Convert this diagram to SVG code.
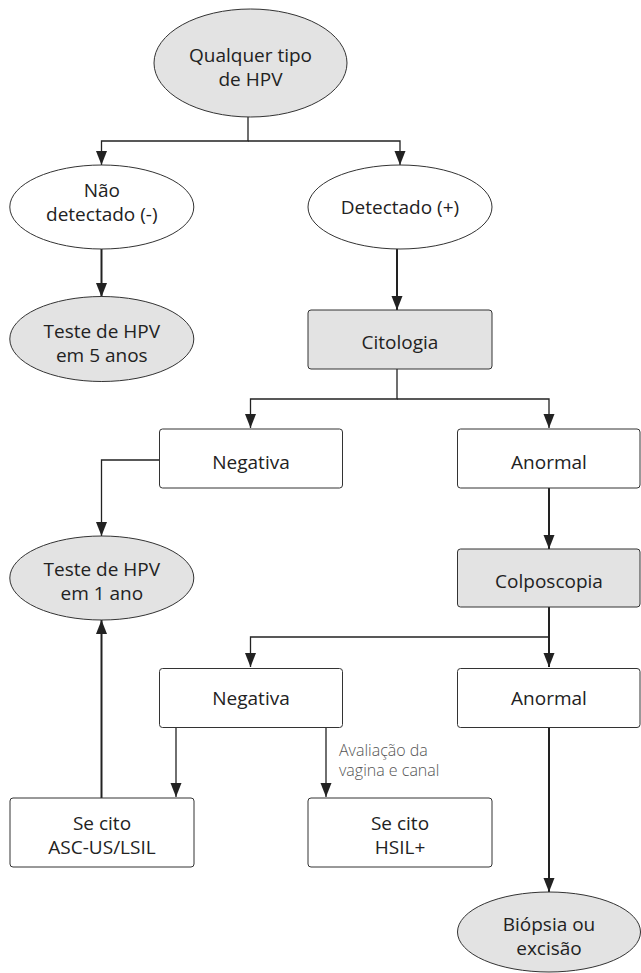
<svg xmlns="http://www.w3.org/2000/svg" width="641" height="973" viewBox="0 0 641 973">
<style>
.bg{fill:#ffffff}
.ell{fill:#e3e3e3;stroke:#333;stroke-width:1}
.ellw{fill:#ffffff;stroke:#333;stroke-width:1}
.box{fill:#ffffff;stroke:#333;stroke-width:1}
.boxg{fill:#e3e3e3;stroke:#333;stroke-width:1}
.t{font-family:"Open Sans","Noto Sans","Liberation Sans",sans-serif;font-size:19px;fill:#222;text-anchor:middle;dominant-baseline:central}
.lbl{font-family:"Open Sans","Noto Sans","Liberation Sans",sans-serif;font-size:16px;fill:#555;font-weight:300;dominant-baseline:central}
.c{fill:none;stroke:#222;stroke-width:1.3}
.ck{fill:none;stroke:#222;stroke-width:2}
</style>
<defs>
<marker id="ah" markerUnits="userSpaceOnUse" markerWidth="14" markerHeight="12" refX="14" refY="5.5" orient="auto">
<path d="M0,0 L14,5.5 L0,11 z" fill="#222"/>
</marker>
</defs>
<rect class="bg" x="0" y="0" width="641" height="973"/>
<g id="connectors">
<path class="c" d="M248,117 V141 H101.5 V165" marker-end="url(#ah)"/>
<path class="c" d="M248,141 H400 V165" marker-end="url(#ah)"/>
<path class="ck" d="M101.5,249 V297" marker-end="url(#ah)"/>
<path class="ck" d="M397,249 V310" marker-end="url(#ah)"/>
<path class="c" d="M397,369 V399 H250.5 V428" marker-end="url(#ah)"/>
<path class="c" d="M397,399 H549 V428" marker-end="url(#ah)"/>
<path class="c" d="M159.5,460 H101.5 V536" marker-end="url(#ah)"/>
<path class="ck" d="M549,488 V549" marker-end="url(#ah)"/>
<path class="ck" d="M549,607 V667" marker-end="url(#ah)"/>
<path class="c" d="M549,637 H250.5 V667" marker-end="url(#ah)"/>
<path class="c" d="M176,727 V797" marker-end="url(#ah)"/>
<path class="c" d="M326,727 V797" marker-end="url(#ah)"/>
<path class="ck" d="M549,727 V892" marker-end="url(#ah)"/>
<path class="ck" d="M101.5,798 V620" marker-end="url(#ah)"/>
</g>
<g id="n-qualquer">
<ellipse class="ell" cx="250.5" cy="63" rx="96.5" ry="54"/>
<text class="t" x="250.5" y="55">Qualquer tipo</text>
<text class="t" x="250.5" y="79">de HPV</text>
</g>
<g id="n-naodetectado">
<ellipse class="ellw" cx="101.8" cy="207" rx="92" ry="42"/>
<text class="t" x="101.8" y="190">Não</text>
<text class="t" x="101.8" y="214">detectado (-)</text>
</g>
<g id="n-detectado">
<ellipse class="ellw" cx="400" cy="207" rx="92" ry="42"/>
<text class="t" x="400" y="207">Detectado (+)</text>
</g>
<g id="n-teste5">
<ellipse class="ell" cx="101.8" cy="339" rx="92" ry="42.5"/>
<text class="t" x="101.8" y="331">Teste de HPV</text>
<text class="t" x="101.8" y="355">em 5 anos</text>
</g>
<g id="n-citologia">
<rect class="boxg" x="308" y="310" width="184" height="59" rx="3"/>
<text class="t" x="400" y="342">Citologia</text>
</g>
<g id="n-negativa1">
<rect class="box" x="159.5" y="429" width="183" height="59" rx="3"/>
<text class="t" x="251" y="462">Negativa</text>
</g>
<g id="n-anormal1">
<rect class="box" x="457.5" y="429" width="182.5" height="59" rx="3"/>
<text class="t" x="549" y="462">Anormal</text>
</g>
<g id="n-teste1">
<ellipse class="ell" cx="101.8" cy="578" rx="92" ry="42"/>
<text class="t" x="101.8" y="569">Teste de HPV</text>
<text class="t" x="101.8" y="593">em 1 ano</text>
</g>
<g id="n-colposcopia">
<rect class="boxg" x="457.5" y="549" width="182.5" height="58" rx="3"/>
<text class="t" x="549" y="581">Colposcopia</text>
</g>
<g id="n-negativa2">
<rect class="box" x="159.5" y="668.5" width="183" height="59" rx="3"/>
<text class="t" x="251" y="698">Negativa</text>
</g>
<g id="n-anormal2">
<rect class="box" x="457.5" y="668.5" width="182.5" height="59" rx="3"/>
<text class="t" x="549" y="698">Anormal</text>
</g>
<g id="label-avaliacao">
<text class="lbl" x="339" y="750">Avaliação da</text>
<text class="lbl" x="339" y="770">vagina e canal</text>
</g>
<g id="n-ascus">
<rect class="box" x="10" y="798" width="184" height="69" rx="3"/>
<text class="t" x="102" y="823">Se cito</text>
<text class="t" x="102" y="847">ASC-US/LSIL</text>
</g>
<g id="n-hsil">
<rect class="box" x="308" y="798" width="184" height="69" rx="3"/>
<text class="t" x="400" y="823">Se cito</text>
<text class="t" x="400" y="847">HSIL+</text>
</g>
<g id="n-biopsia">
<ellipse class="ell" cx="549" cy="932" rx="91.5" ry="40"/>
<text class="t" x="549" y="924">Biópsia ou</text>
<text class="t" x="549" y="948">excisão</text>
</g>
</svg>
